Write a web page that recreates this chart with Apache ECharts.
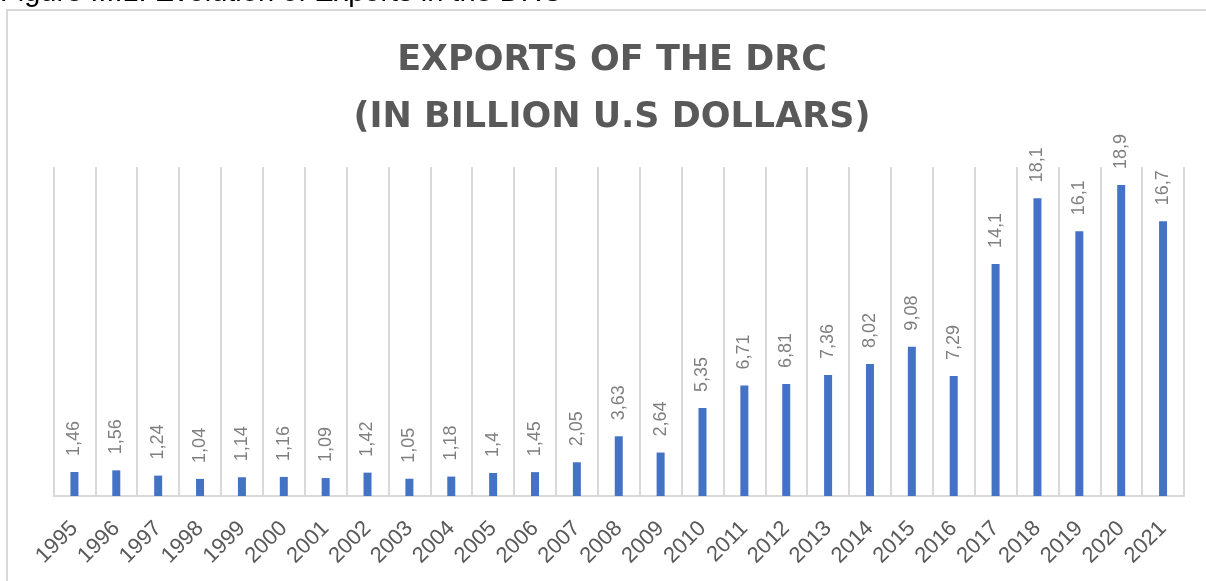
<!DOCTYPE html>
<html>
<head>
<meta charset="utf-8">
<script src="https://cdn.jsdelivr.net/npm/echarts@6/dist/echarts.min.js"></script>
<style>
  html, body { margin: 0; padding: 0; background: #ffffff; }
  #chart { width: 1206px; height: 581px; }
</style>
</head>
<body>
<div id="chart"></div>
<script>
// Exports of the DRC, billions of U.S. dollars
const years = ['1995','1996','1997','1998','1999','2000','2001','2002','2003','2004','2005','2006','2007',
               '2008','2009','2010','2011','2012','2013','2014','2015','2016','2017','2018','2019','2020','2021'];
const exportsBn = [1.46, 1.56, 1.24, 1.04, 1.14, 1.16, 1.09, 1.42, 1.05, 1.18, 1.4, 1.45, 2.05,
                   3.63, 2.64, 5.35, 6.71, 6.81, 7.36, 8.02, 9.08, 7.29, 14.1, 18.1, 16.1, 18.9, 16.7];
const chartTitle = 'EXPORTS OF THE DRC\n(IN BILLION U.S DOLLARS)';
const figureCaption = 'Figure III.1: Evolution of Exports in the DRC';

const chart = echarts.init(document.getElementById('chart'), null, { renderer: 'canvas' });

chart.setOption({
  animation: false,
  backgroundColor: '#ffffff',
  title: {
    text: chartTitle,
    left: 607,
    top: 27,
    textAlign: 'center',
    textStyle: {
      fontFamily: 'DejaVu Sans',
      fontWeight: 'bold',
      fontSize: 35,
      lineHeight: 57,
      color: '#595959'
    }
  },
  graphic: [
    {
      type: 'rect',
      shape: { x: 7, y: 10, width: 1240, height: 620 },
      style: { fill: 'none', stroke: '#d9d9d9', lineWidth: 2 },
      silent: true,
      z: -10
    },
    {
      type: 'text',
      left: 0,
      top: -22,
      style: {
        text: figureCaption,
        fontFamily: 'Liberation Sans',
        fontSize: 29,
        fill: '#000000'
      },
      silent: true
    }
  ],
  grid: { left: 53.5, right: 22, top: 167, bottom: 85, containLabel: false },
  xAxis: {
    type: 'category',
    data: years,
    boundaryGap: true,
    axisLine: { show: true, lineStyle: { color: '#d9d9d9', width: 2 } },
    axisTick: { show: false },
    splitLine: { show: true, lineStyle: { color: '#d9d9d9', width: 2 } },
    axisLabel: {
      rotate: 45,
      margin: 29,
      interval: 0,
      fontFamily: 'Liberation Sans',
      fontSize: 22,
      color: '#595959'
    }
  },
  yAxis: {
    type: 'value',
    min: 0,
    max: 20,
    show: false,
    splitLine: { show: false }
  },
  series: [{
    type: 'bar',
    data: exportsBn,
    barWidth: 8,
    itemStyle: { color: '#4472C4' },
    label: {
      show: true,
      position: 'top',
      rotate: 90,
      align: 'left',
      verticalAlign: 'middle',
      distance: 16,
      fontFamily: 'Liberation Sans',
      fontSize: 18,
      color: '#7f7f7f',
      formatter: p => String(p.value).replace('.', ',')
    }
  }]
});
</script>
</body>
</html>
